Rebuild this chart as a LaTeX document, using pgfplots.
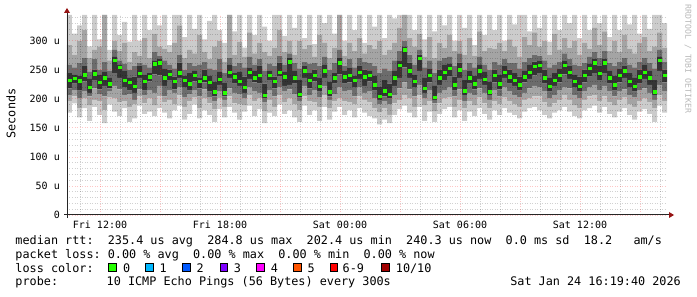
\documentclass[border=0pt]{standalone}
\usepackage{fontspec}
\usepackage{pgfplots}
\pgfplotsset{compat=1.18}
\usepackage{pgfplotstable}
\newfontfamily\mono{DejaVu Sans Mono}
\newcommand{\legfont}{\mono\fontsize{11.8}{12}\selectfont}
\newcommand{\axfont}{\mono\fontsize{10}{10}\selectfont}
\definecolor{smA}{RGB}{204,204,204}
\definecolor{smB}{RGB}{164,164,164}
\definecolor{smC}{RGB}{108,108,108}
\definecolor{smD}{RGB}{52,52,52}
\definecolor{medgreen}{RGB}{38,255,0}
\definecolor{arrowred}{RGB}{150,20,20}
\definecolor{lc1}{RGB}{0,184,255}
\definecolor{lc2}{RGB}{0,89,255}
\definecolor{lc3}{RGB}{126,0,255}
\definecolor{lc4}{RGB}{255,0,255}
\definecolor{lc5}{RGB}{255,85,0}
\definecolor{lc6}{RGB}{255,0,0}
\definecolor{lc10}{RGB}{160,0,0}
\frenchspacing
\pgfplotstableread{
lo1 lo2 lo3 lo4 med hi4 hi3 hi2 hi1
176 196 206 218 232 244 258 292 344
192 204 214 226 235 242 254 276 312
168 184 200 214 231 240 262 300 326
184 200 212 230 241 256 270 318 344
162 188 204 210 220 234 246 270 290
186 198 218 232 243 250 268 284 344
172 196 208 216 228 242 250 290 302
158 180 204 222 236 246 264 344 344
190 202 212 218 226 236 248 266 284
178 200 222 244 266 272 284 300 344
170 194 216 236 254 258 266 282 310
184 196 206 220 232 248 260 296 332
160 186 208 214 228 236 250 264 298
166 190 198 210 222 238 256 280 344
188 204 216 236 244 256 262 274 300
174 192 206 214 230 242 258 304 344
178 200 214 230 238 244 254 270 318
170 188 210 242 260 266 280 312 344
184 204 222 240 262 268 274 290 326
176 194 204 222 236 252 266 286 344
166 198 214 232 242 250 258 280 292
180 190 210 216 230 238 252 296 344
188 206 220 236 245 262 276 326 344
164 186 202 220 232 240 250 270 306
174 196 208 214 226 244 262 284 344
190 202 214 230 240 248 256 278 320
166 184 204 218 230 236 258 310 344
180 200 216 228 236 250 264 280 302
172 192 202 212 228 240 252 268 334
160 182 196 204 212 230 250 290 344
182 200 212 224 234 246 268 300 318
168 186 198 204 210 228 244 264 296
186 204 218 236 246 258 270 344 344
176 192 210 226 238 244 256 276 316
164 190 208 222 230 246 262 298 344
178 188 200 210 220 238 254 272 288
188 206 220 234 246 254 272 314 344
170 196 212 228 236 248 258 278 310
182 200 210 226 240 256 268 296 344
158 178 194 200 206 226 248 280 324
176 198 214 232 240 248 260 274 300
170 186 204 218 230 238 256 288 344
190 206 220 238 246 262 274 318 344
174 194 212 222 238 246 258 280 308
180 200 216 224 264 270 278 300 344
168 190 208 226 236 248 262 276 322
160 180 196 202 208 232 252 300 344
188 204 222 236 248 256 264 286 304
172 196 206 218 232 244 260 292 344
180 194 214 230 240 250 262 272 294
162 186 202 212 222 236 256 310 344
186 206 222 236 248 258 272 296 330
164 184 198 204 212 230 250 270 344
178 196 208 226 236 244 262 288 312
186 200 220 242 262 270 284 344 344
172 196 212 226 238 248 256 274 300
180 194 214 228 240 254 268 296 344
168 190 204 220 232 240 254 282 318
184 204 220 234 246 256 270 304 344
176 198 210 222 238 250 264 278 296
170 194 212 230 240 248 262 292 344
166 184 200 214 224 240 256 286 324
156 176 190 198 204 220 244 300 344
164 184 196 204 214 232 252 276 304
158 172 190 200 208 226 248 284 344
172 192 206 222 236 248 266 296 338
182 198 218 236 258 266 282 322 344
188 206 228 254 284 290 300 344 344
176 200 216 236 248 262 276 304 344
168 186 204 220 230 242 258 290 318
186 206 224 248 270 276 284 312 344
162 188 200 210 218 236 254 272 302
178 196 214 228 240 252 266 306 344
160 178 192 198 203 222 244 270 316
174 192 210 224 236 250 266 296 344
182 200 214 232 246 258 270 288 326
186 202 220 238 252 260 272 310 344
168 186 204 214 224 238 256 282 300
180 198 216 236 250 262 278 300 344
162 184 196 206 214 232 250 276 322
178 196 210 226 236 248 262 304 344
170 188 206 216 226 240 254 274 292
184 202 218 234 248 258 272 316 344
174 192 210 224 234 246 258 282 310
164 184 198 206 212 230 250 288 344
180 196 214 228 240 250 264 286 318
172 190 204 216 226 242 258 296 344
184 202 220 236 246 256 268 282 300
176 196 212 226 238 250 262 302 344
172 190 206 222 232 244 262 290 328
166 186 202 214 224 238 252 272 344
178 198 210 228 238 248 264 306 344
184 200 218 234 246 258 270 292 316
186 204 222 240 256 264 276 314 344
180 204 220 244 258 266 274 290 322
172 194 212 226 236 250 266 300 344
166 186 200 212 222 236 254 276 298
176 192 206 222 232 244 258 312 344
180 198 214 228 240 252 264 284 318
186 206 220 242 258 266 278 304 344
178 198 218 234 246 256 268 288 330
170 188 206 220 230 242 258 300 344
166 184 200 212 222 238 256 276 304
180 198 212 228 240 250 262 296 344
184 204 220 238 252 260 272 286 318
188 206 224 244 262 268 280 322 344
176 196 214 232 244 256 270 292 330
186 204 222 244 262 268 282 316 344
174 194 212 226 236 248 262 282 306
168 188 204 214 224 240 256 300 344
178 198 212 228 240 252 264 280 318
184 202 216 236 248 256 270 310 344
172 190 206 220 230 244 258 286 328
164 186 202 212 222 236 254 278 344
178 196 214 226 238 250 264 296 312
182 200 218 234 246 258 270 306 344
174 194 210 224 236 248 262 282 320
160 184 198 206 212 232 252 290 344
188 206 224 248 266 272 284 314 344
176 196 212 228 240 250 264 288 330
176 196 212 228 240 250 264 288 330
}\smoke
\pgfplotsset{rrdframe/.style={
  at={(67pt,82pt)}, anchor=south west,
  scale only axis, width=600pt, height=200pt,
  xmin=10.35, xmax=40.35, ymin=0, ymax=344}}
\begin{document}
\begin{tikzpicture}
\useasboundingbox (0,0) rectangle (697pt,297pt);
\begin{axis}[
  rrdframe,
  stack plots=y,
  axis on top=true,
  axis line style={draw=none},
  major tick length=0pt, minor tick length=0pt,
  xtick={12,15,18,21,24,27,30,33,36,39},
  xticklabels={\mbox{Fri 12:00},,\mbox{Fri 18:00},,\mbox{Sat 00:00},,\mbox{Sat 06:00},,\mbox{Sat 12:00},},
  minor xtick={11,13,14,16,17,19,20,22,23,25,26,28,29,31,32,34,35,37,38,40},
  ytick={0,50,100,150,200,250,300},
  yticklabels={\mbox{0},\mbox{50 u},\mbox{100 u},\mbox{150 u},\mbox{200 u},\mbox{250 u},\mbox{300 u}},
  minor ytick={10,20,30,40,60,70,80,90,110,120,130,140,160,170,180,190,210,220,230,240,260,270,280,290,310,320,330,340},
  grid=both,
  major grid style={red, opacity=0.22, line width=0.7pt, dash pattern=on 1pt off 1.5pt},
  minor grid style={black, opacity=0.18, line width=0.7pt, dash pattern=on 1pt off 1.5pt},
  xticklabel style={font=\axfont, anchor=base, inner sep=0pt, yshift=-14pt},
  yticklabel style={font=\axfont, anchor=east, inner sep=0pt, xshift=-7pt},
]
\addplot[const plot, draw=none] table[x expr=10.35+0.25*\coordindex, y=lo1]{\smoke};
\addplot[const plot, draw=none, fill=smA] table[x expr=10.35+0.25*\coordindex, y expr=\thisrow{lo2}-\thisrow{lo1}]{\smoke} \closedcycle;
\addplot[const plot, draw=none, fill=smB] table[x expr=10.35+0.25*\coordindex, y expr=\thisrow{lo3}-\thisrow{lo2}]{\smoke} \closedcycle;
\addplot[const plot, draw=none, fill=smC] table[x expr=10.35+0.25*\coordindex, y expr=\thisrow{lo4}-\thisrow{lo3}]{\smoke} \closedcycle;
\addplot[const plot, draw=none, fill=smD] table[x expr=10.35+0.25*\coordindex, y expr=\thisrow{hi4}-\thisrow{lo4}]{\smoke} \closedcycle;
\addplot[const plot, draw=none, fill=smC] table[x expr=10.35+0.25*\coordindex, y expr=\thisrow{hi3}-\thisrow{hi4}]{\smoke} \closedcycle;
\addplot[const plot, draw=none, fill=smB] table[x expr=10.35+0.25*\coordindex, y expr=\thisrow{hi2}-\thisrow{hi3}]{\smoke} \closedcycle;
\addplot[const plot, draw=none, fill=smA] table[x expr=10.35+0.25*\coordindex, y expr=\thisrow{hi1}-\thisrow{hi2}]{\smoke} \closedcycle;
\end{axis}
\begin{axis}[rrdframe, hide axis]
\addplot[only marks, mark=square*, mark size=1.2pt, color=medgreen, mark options={draw=none, fill=medgreen}]
  table[x expr=10.475+0.25*\coordindex, y=med]{\smoke};
\end{axis}
% axis lines and arrows
\draw[line width=1pt, black!85] (64pt,82pt) -- (670pt,82pt);
\fill[arrowred] (674pt,82pt) -- (669pt,79pt) -- (669pt,85pt) -- cycle;
\draw[line width=1pt, black!85] (67pt,79pt) -- (67pt,285pt);
\fill[arrowred] (67pt,289pt) -- (64pt,284pt) -- (70pt,284pt) -- cycle;
% y label and watermark
\node[rotate=90, font=\legfont, inner sep=0pt] at (11pt,183.5pt) {Seconds};
\node[rotate=-90, font=\mono\fontsize{8.2}{8}\selectfont, text=black!28, inner sep=0pt] at (688pt,238pt) {RRDTOOL / TOBI OETIKER};
% legend
\node[anchor=base west, inner sep=0pt, font=\legfont] at (15.3pt,52.3pt) {median rtt:~~235.4 us avg~~284.8 us max~~202.4 us min~~240.3 us now~~0.0 ms sd~~18.2~~~am/s};
\node[anchor=base west, inner sep=0pt, font=\legfont] at (15.3pt,38.5pt) {packet loss: 0.00 \% avg~~0.00 \% max~~0.00 \% min~~0.00 \% now};
\node[anchor=base west, inner sep=0pt, font=\legfont] at (15.3pt,24.8pt) {loss color:};
\foreach \xx/\cc/\lab/\lx in {108.3/medgreen/0/123, 145.7/lc1/1/159.3, 182.7/lc2/2/196.3, 220/lc3/3/233.7, 256.7/lc4/4/270.7, 293.3/lc5/5/307.3, 330/lc6/6-9/342.5, 381.7/lc10/10\slash 10/395.7}{
  \filldraw[fill=\cc, draw=black, line width=0.8pt] (\xx pt,25.7pt) rectangle ++(7.6pt,7.4pt);
  \node[anchor=base west, inner sep=0pt, font=\legfont] at (\lx pt,24.8pt) {\lab};
}
\node[anchor=base west, inner sep=0pt, font=\legfont] at (15.3pt,11pt) {probe:};
\node[anchor=base west, inner sep=0pt, font=\legfont] at (106.5pt,11pt) {10 ICMP Echo Pings (56 Bytes) every 300s};
\node[anchor=base east, inner sep=0pt, font=\legfont] at (681pt,11pt) {Sat Jan 24 16:19:40 2026};
\end{tikzpicture}
\end{document}
